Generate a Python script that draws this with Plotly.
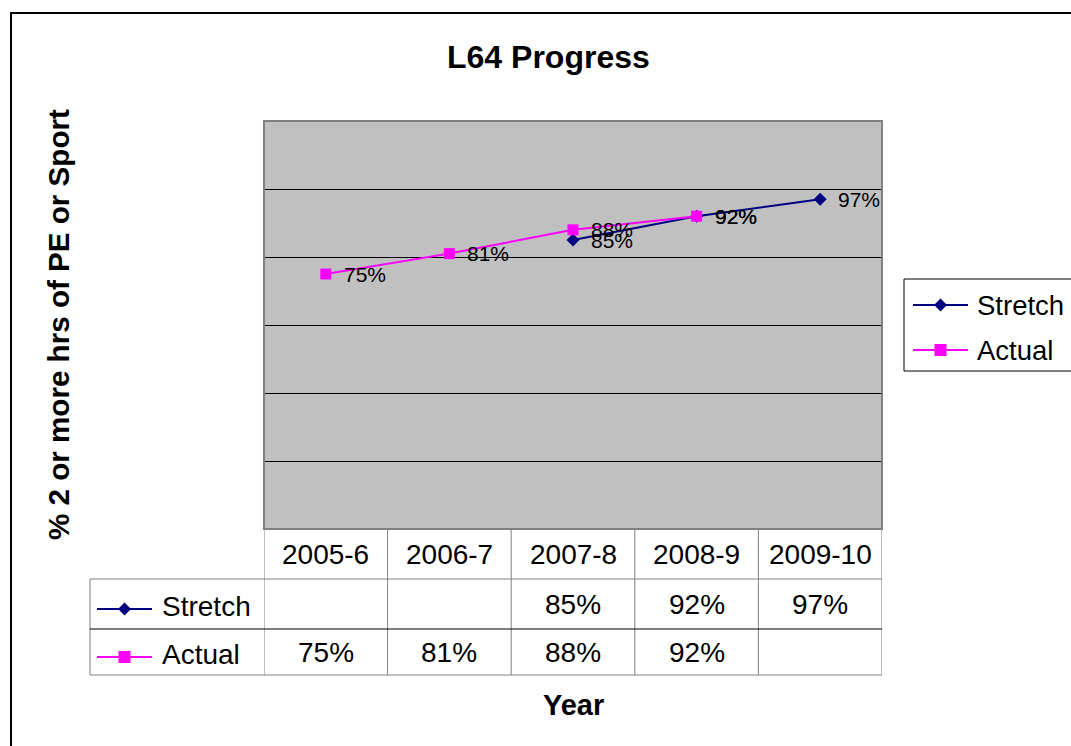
import plotly.graph_objects as go

# ---------------- data ----------------
years = ["2005-6", "2006-7", "2007-8", "2008-9", "2009-10"]
stretch = [None, None, 0.85, 0.92, 0.97]
actual = [0.75, 0.81, 0.88, 0.92, None]
series_names = ["Stretch", "Actual"]
title_text = "L64 Progress"
y_title = "% 2 or more hrs of PE or Sport"
x_title = "Year"

# ---------------- layout helpers ----------------
W, H = 1071, 746
L, R, T, B = 264, 882, 121, 529  # plot area in pixels


def px(x):
    return (x - L) / (R - L)


def py(y):
    return (B - y) / (B - T)


NAVY = "#000080"
MAG = "#FF00FF"
GREY = "#808080"
FONT = "Arial, Liberation Sans, sans-serif"

xs = list(range(len(years)))
series = [stretch, actual]
colors = [NAVY, MAG]
symbols = ["diamond", "square"]
msizes = [10, 11]

fig = go.Figure()
for name, vals, col, sym, ms in zip(series_names, series, colors, symbols, msizes):
    fig.add_trace(go.Scatter(
        x=xs, y=vals, mode="lines+markers", name=name,
        line=dict(color=col, width=2),
        marker=dict(symbol=sym, size=ms, color=col),
        showlegend=False, connectgaps=False, cliponaxis=False,
    ))

shapes = []
annotations = []

# plot area border
shapes.append(dict(type="rect", xref="paper", yref="paper", x0=0, x1=1, y0=0, y1=1,
                   line=dict(color=GREY, width=2), layer="above"))

# data labels
for vals in series:
    for i, v in enumerate(vals):
        if v is None:
            continue
        annotations.append(dict(x=i, y=v, xref="x", yref="y", text=f"{round(v * 100)}%",
                                showarrow=False, xanchor="left", yanchor="middle", xshift=16,
                                font=dict(family=FONT, size=21, color="black")))

# ---------------- data table ----------------
row_top, row1, row2, row_bot = 529, 579, 629, 675
for k in range(len(years) + 1):
    shapes.append(dict(type="line", xref="x", yref="paper", x0=k - 0.5, x1=k - 0.5,
                       y0=py(row_top), y1=py(row_bot), line=dict(color=GREY, width=1)))
shapes.append(dict(type="line", xref="paper", yref="paper", x0=px(90), x1=px(90),
                   y0=py(row1), y1=py(row_bot), line=dict(color=GREY, width=1)))
shapes.append(dict(type="line", xref="paper", yref="paper", x0=px(90), x1=1,
                   y0=py(row1), y1=py(row1), line=dict(color=GREY, width=1)))
shapes.append(dict(type="line", xref="paper", yref="paper", x0=px(90), x1=1,
                   y0=py(row2), y1=py(row2), line=dict(color="black", width=1)))
shapes.append(dict(type="line", xref="paper", yref="paper", x0=px(90), x1=1,
                   y0=py(row_bot), y1=py(row_bot), line=dict(color=GREY, width=1)))

for i, yr in enumerate(years):
    annotations.append(dict(x=i, y=py((row_top + row1) / 2), xref="x", yref="paper", text=yr,
                            showarrow=False, xanchor="center", yanchor="middle",
                            font=dict(family=FONT, size=28, color="black")))
row_centers = [(row1 + row2) / 2, (row2 + row_bot) / 2]
for vals, yc in zip(series, row_centers):
    for i, v in enumerate(vals):
        if v is None:
            continue
        annotations.append(dict(x=i, y=py(yc), xref="x", yref="paper", text=f"{round(v * 100)}%",
                                showarrow=False, xanchor="center", yanchor="middle",
                                font=dict(family=FONT, size=28, color="black")))


def diamond_path(cx, cy, r):
    return (f"M {px(cx - r)},{py(cy)} L {px(cx)},{py(cy - r)} L {px(cx + r)},{py(cy)} "
            f"L {px(cx)},{py(cy + r)} Z")


def add_key(x0, x1, yc, col, sym):
    shapes.append(dict(type="line", xref="paper", yref="paper", x0=px(x0), x1=px(x1),
                       y0=py(yc), y1=py(yc), line=dict(color=col, width=2)))
    cx = (x0 + x1) / 2
    if sym == "diamond":
        shapes.append(dict(type="path", xref="paper", yref="paper", path=diamond_path(cx, yc, 6.5),
                           fillcolor=col, line=dict(color=col, width=0)))
    else:
        shapes.append(dict(type="rect", xref="paper", yref="paper", x0=px(cx - 6), x1=px(cx + 6),
                           y0=py(yc - 6), y1=py(yc + 6), fillcolor=col, line=dict(color=col, width=0)))


# table row keys
for name, col, sym, yc in zip(series_names, colors, symbols, [609, 657]):
    add_key(97, 152, yc, col, sym)
    annotations.append(dict(x=px(160), y=py(yc - 3), xref="paper", yref="paper", text=name,
                            showarrow=False, xanchor="left", yanchor="middle",
                            font=dict(family=FONT, size=28, color="black")))

# ---------------- legend (right) ----------------
shapes.append(dict(type="rect", xref="paper", yref="paper", x0=px(904), x1=px(1090),
                   y0=py(279), y1=py(371), line=dict(color="black", width=1), fillcolor="white"))
for name, col, sym, yc in zip(series_names, colors, symbols, [305, 350]):
    add_key(913, 968, yc, col, sym)
    annotations.append(dict(x=px(975), y=py(yc), xref="paper", yref="paper", text=name,
                            showarrow=False, xanchor="left", yanchor="middle",
                            font=dict(family=FONT, size=27.5, color="black")))

# ---------------- titles ----------------
annotations.append(dict(x=px(548), y=py(57), xref="paper", yref="paper", text=title_text,
                        showarrow=False, xanchor="center", yanchor="middle",
                        font=dict(family=FONT, size=32, color="black", weight="bold")))
annotations.append(dict(x=px(58), y=py(325), xref="paper", yref="paper", text=y_title,
                        showarrow=False, xanchor="center", yanchor="middle", textangle=-90,
                        font=dict(family=FONT, size=29.6, color="black", weight="bold")))
annotations.append(dict(x=px(573), y=py(705), xref="paper", yref="paper", text=x_title,
                        showarrow=False, xanchor="center", yanchor="middle",
                        font=dict(family=FONT, size=29, color="black", weight="bold")))

# outer chart border (left and top edges visible)
shapes.append(dict(type="line", xref="paper", yref="paper", x0=px(11), x1=px(11),
                   y0=py(12), y1=py(800), line=dict(color="black", width=2)))
shapes.append(dict(type="line", xref="paper", yref="paper", x0=px(10), x1=px(1100),
                   y0=py(13), y1=py(13), line=dict(color="black", width=2)))

fig.update_layout(
    width=W, height=H,
    margin=dict(l=L, r=W - R, t=T, b=H - B),
    paper_bgcolor="white", plot_bgcolor="#C0C0C0",
    xaxis=dict(range=[-0.5, len(years) - 0.5], showticklabels=False, showgrid=False,
               zeroline=False, ticks="", showline=False, fixedrange=True),
    yaxis=dict(range=[0, 1.2], dtick=0.2, showticklabels=False, showgrid=True,
               gridcolor="black", gridwidth=1, zeroline=False, ticks="", showline=False,
               fixedrange=True),
    shapes=shapes, annotations=annotations,
    font=dict(family=FONT, color="black"),
    showlegend=False,
)

fig.write_html("out.html", config={"displayModeBar": False},
               post_script="document.body.style.margin='0';document.body.style.overflow='hidden';")
